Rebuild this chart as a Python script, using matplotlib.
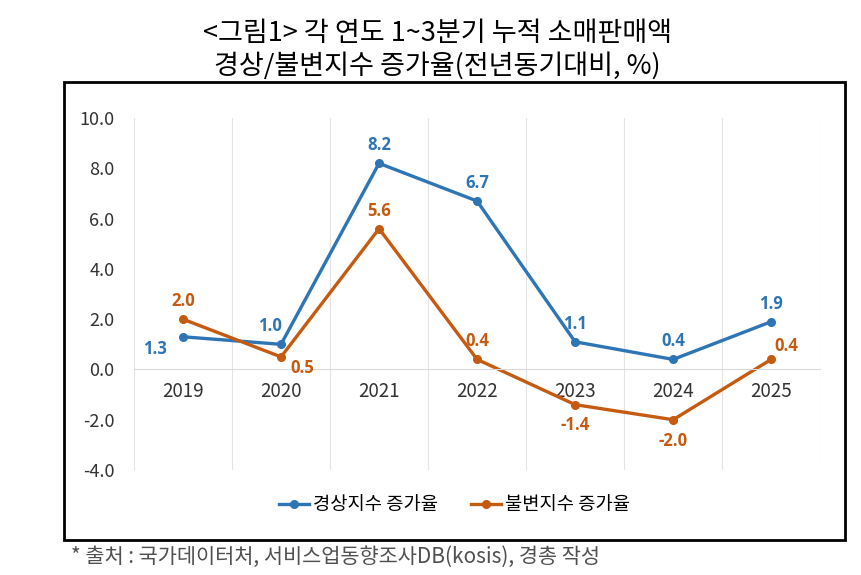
import matplotlib.pyplot as plt
from matplotlib.patches import Rectangle

# --- Datos ---
years = ["2019", "2020", "2021", "2022", "2023", "2024", "2025"]
nominal = [1.3, 1.0, 8.2, 6.7, 1.1, 0.4, 1.9]    # 경상지수 증가율
real = [2.0, 0.5, 5.6, 0.4, -1.4, -2.0, 0.4]     # 불변지수 증가율
yticks = [-4, -2, 0, 2, 4, 6, 8, 10]

title = "<그림1> 각 연도 1~3분기 누적 소매판매액\n경상/불변지수 증가율(전년동기대비, %)"
source = "* 출처 : 국가데이터처, 서비스업동향조사DB(kosis), 경총 작성"

# label offsets (points) per point
off_nom = [(-20, -9), (-8, 13), (0, 13), (0, 13), (0, 13), (0, 13), (0, 13)]
off_real = [(0, 13), (15, -8), (0, 13), (0, 13), (0, -15), (0, -15), (11, 10)]

plt.rcParams['font.family'] = ['Noto Sans CJK KR', 'DejaVu Sans']
plt.rcParams['xtick.color'] = "#333333"
plt.rcParams['ytick.color'] = "#333333"
num_font = ["Open Sans", "DejaVu Sans"]

blue = "#2E75B6"
orange = "#C55A11"

fig = plt.figure(figsize=(8.61, 5.75), dpi=100)
fig.patches.append(Rectangle((0.0743, 0.061), 0.9067, 0.796, transform=fig.transFigure,
                             fill=False, edgecolor="black", linewidth=2))

fig.text(0.508, 0.941, title.split("\n")[0], ha="center", va="center", fontsize=19.5)
fig.text(0.508, 0.886, title.split("\n")[1], ha="center", va="center", fontsize=19.5)

ax = fig.add_axes([0.1556, 0.1826, 0.797, 0.612])
ax.tick_params(axis="x", which="both", length=0, pad=8, labelsize=13.5)
ax.tick_params(axis="y", length=0, pad=14, labelsize=13)

x = list(range(len(years)))
ax.plot(x, nominal, color=blue, lw=2.4, marker="o", ms=5.5, label="경상지수 증가율")
ax.plot(x, real, color=orange, lw=2.4, marker="o", ms=5.5, label="불변지수 증가율")

for i in x:
    ax.annotate(f"{nominal[i]:.1f}", (i, nominal[i]), xytext=off_nom[i], textcoords="offset points",
                ha="center", va="center", color=blue, fontsize=12, fontweight="bold",
                family=num_font)
    ax.annotate(f"{real[i]:.1f}", (i, real[i]), xytext=off_real[i], textcoords="offset points",
                ha="center", va="center", color=orange, fontsize=12, fontweight="bold",
                family=num_font)

ax.set_xlim(-0.5, len(years) - 0.5)
ax.set_ylim(-4, 10)
ax.set_yticks(yticks)
ax.set_yticklabels([f"{v:.1f}" for v in yticks])
ax.set_xticks(x)
ax.set_xticklabels(years)
ax.set_xticks([i - 0.5 for i in range(len(years) + 1)], minor=True)
ax.grid(True, axis="x", which="minor", color="#E3E3E3", lw=0.8)
ax.set_axisbelow(True)

for s in ["top", "right", "left"]:
    ax.spines[s].set_visible(False)
ax.spines["bottom"].set_position(("data", 0))
ax.spines["bottom"].set_color("#D9D9D9")

fig.legend(loc="center", bbox_to_anchor=(0.528, 0.122), ncol=2, frameon=False,
           fontsize=13.5, handlelength=1.6, handletextpad=0.2, columnspacing=1.8)

fig.text(0.083, 0.031, source, ha="left", va="center", fontsize=15, color="#505050",
         fontweight="light")

fig.savefig("out.png", dpi=100)
